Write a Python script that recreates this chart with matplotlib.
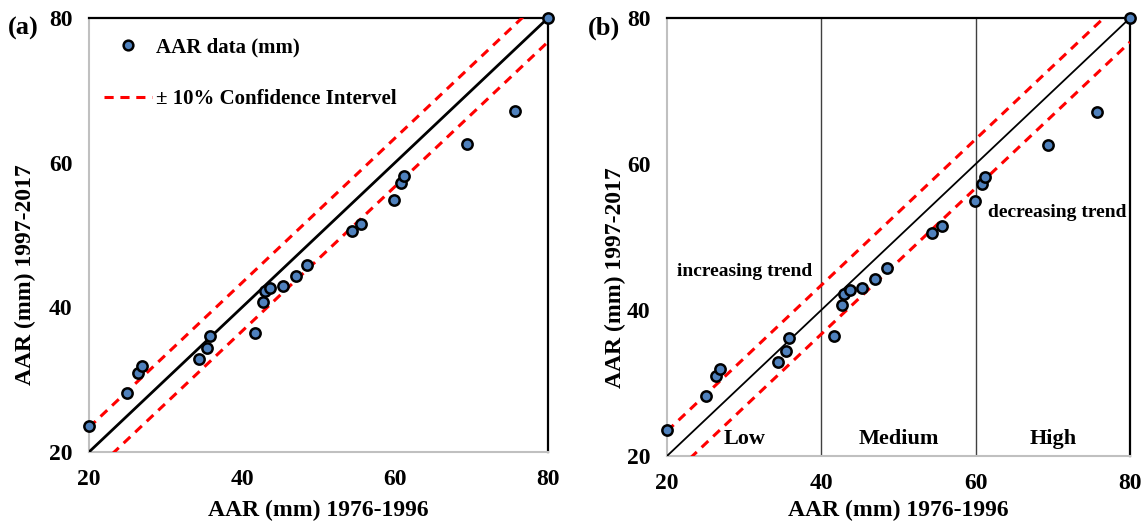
import matplotlib
matplotlib.use("Agg")
import matplotlib.pyplot as plt
import numpy as np
from matplotlib.lines import Line2D

plt.rcParams['font.family'] = ['Liberation Serif', 'DejaVu Serif']
plt.rcParams['font.weight'] = 'bold'

# Data (AAR in mm)
aar_1976_1996 = [20, 25, 26.4, 26.9, 34.4, 35.4, 35.8, 41.7, 42.7, 43.0, 43.7,
                 45.3, 47.0, 48.5, 54.4, 55.6, 59.9, 60.8, 61.2, 69.4, 75.7, 80]
aar_1997_2017 = [23.6, 28.2, 30.9, 31.9, 32.9, 34.4, 36.1, 36.5, 40.7, 42.2, 42.7,
                 43.0, 44.3, 45.8, 50.6, 51.5, 54.9, 57.2, 58.2, 62.6, 67.1, 80]
ticks = [20, 40, 60, 80]
line_x = [20, 80]
ci_offset_upper = 3.4
ci_offset_lower = 3.3
zone_bounds = [40, 60]
zone_labels = ["Low", "Medium", "High"]
zone_centers = [30, 50, 70]

W, H = 1146, 526
fig = plt.figure(figsize=(W / 100, H / 100), dpi=100)

axA = fig.add_axes([89 / W, 1 - 452 / H, (548 - 89) / W, (452 - 18) / H])
axB = fig.add_axes([667 / W, 1 - 456 / H, (1130 - 667) / W, (456 - 18) / H])

marker_kw = dict(marker='o', s=55, facecolor='#4f81bd', edgecolor='black',
                 linewidths=1.8, zorder=5, clip_on=False)

for ax, lw_main in [(axA, 2.0), (axB, 1.3)]:
    lx = np.array(line_x, dtype=float)
    ax.plot(lx, lx, color='black', lw=lw_main, zorder=3)
    ax.plot(lx, lx + ci_offset_upper, color='#ff0000', lw=2.2, ls=(0, (3, 2.2)), zorder=3)
    ax.plot(lx, lx - ci_offset_lower, color='#ff0000', lw=2.2, ls=(0, (3, 2.2)), zorder=3)
    ax.scatter(aar_1976_1996, aar_1997_2017, **marker_kw)
    ax.set_xlim(20, 80)
    ax.set_ylim(20, 80)
    ax.set_xticks(ticks)
    ax.set_yticks(ticks)
    ax.tick_params(length=0, labelsize=17)
    ax.tick_params(axis='x', pad=12)
    ax.tick_params(axis='y', pad=12)
    for lab in ax.get_xticklabels() + ax.get_yticklabels():
        lab.set_fontweight('bold')
    ax.spines['left'].set_color('#c0c0c0')
    ax.spines['bottom'].set_color('#c0c0c0')
    ax.spines['left'].set_linewidth(1.5)
    ax.spines['bottom'].set_linewidth(1.5)
    ax.spines['top'].set_color('black')
    ax.spines['right'].set_color('black')
    ax.spines['top'].set_linewidth(1.6)
    ax.spines['right'].set_linewidth(1.6)
    ax.set_xlabel('AAR (mm) 1976-1996', fontsize=17, fontweight='bold')
    ax.set_ylabel('AAR (mm) 1997-2017', fontsize=17, fontweight='bold')

axA.xaxis.set_label_coords(0.5, (452 - 500) / 434)
axA.yaxis.set_label_coords((36 - 89) / 459, (452 - 275) / 434)
axB.xaxis.set_label_coords(0.5, (456 - 500) / 438)
axB.yaxis.set_label_coords((626 - 667) / 463, (456 - 278) / 438)

# Legend in panel (a)
handles = [
    Line2D([], [], ls='none', marker='o', markersize=7, markerfacecolor='#4f81bd',
           markeredgecolor='black', markeredgewidth=1.8),
    Line2D([], [], color='#ff0000', lw=2.2, ls=(0, (3, 2.2))),
]
axA.legend(handles, ['AAR data (mm)', '± 10% Confidence Intervel'],
           loc='upper left', bbox_to_anchor=(0.014, 0.975), frameon=False,
           prop={'size': 15, 'weight': 'bold'}, handlelength=2.3,
           handletextpad=0.2, labelspacing=1.55, borderaxespad=0)

# Panel (b) zones
for xb in zone_bounds:
    axB.axvline(xb, color='#404040', lw=1.0, zorder=1)
for lbl, xc in zip(zone_labels, zone_centers):
    axB.text(xc, 22.3, lbl, ha='center', va='center', fontsize=16, fontweight='bold')
axB.text(30.0, 45.3, 'increasing trend', ha='center', va='center', fontsize=14, fontweight='bold')
axB.text(70.6, 53.3, 'decreasing trend', ha='center', va='center', fontsize=14, fontweight='bold')

fig.text(8 / W, 1 - 28 / H, '(a)', fontsize=19, fontweight='bold', ha='left', va='center')
fig.text(588 / W, 1 - 28 / H, '(b)', fontsize=19, fontweight='bold', ha='left', va='center')

fig.savefig('out.png', dpi=100)
